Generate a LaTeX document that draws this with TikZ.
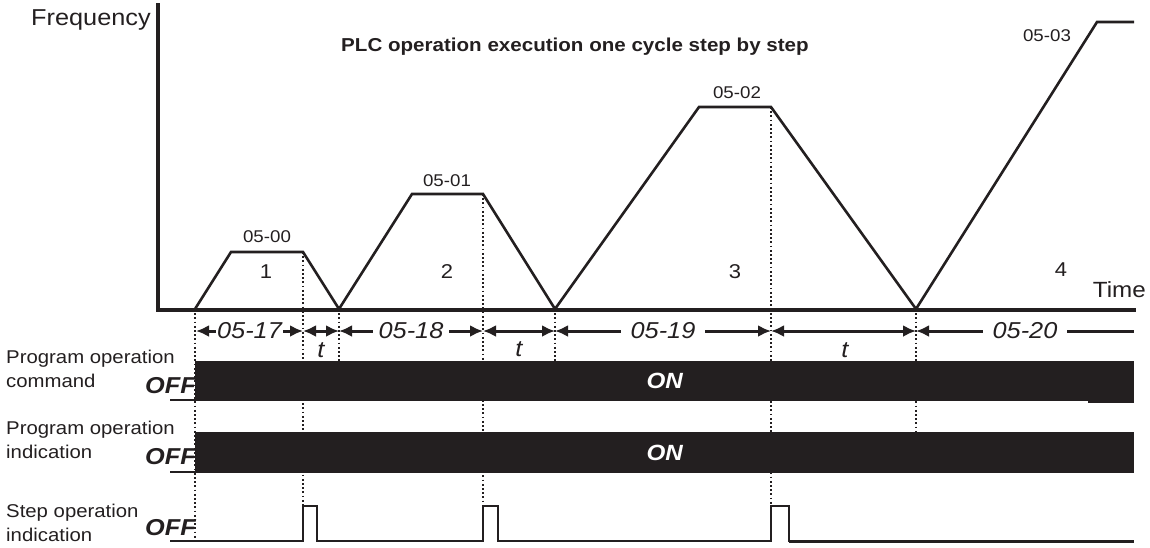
\documentclass[tikz,border=0pt]{standalone}
\usepackage{fontspec}
\setmainfont{Liberation Sans}[FakeStretch=1.1]
\usetikzlibrary{arrows.meta}
\definecolor{ink}{RGB}{35,31,32}
\begin{document}
\begin{tikzpicture}[x=1pt,y=-1pt,
  axis/.style={line width=4pt, draw=ink, line join=miter, line cap=rect},
  curve/.style={line width=2.6pt, draw=ink, line join=miter},
  guide/.style={line width=1.8pt, draw=ink, dash pattern=on 1.8pt off 2.4pt},
  dimline/.style={line width=3pt, draw=ink},
  tip/.tip={Latex[length=13pt,width=12pt]},
  dimlbl/.style={fill=white, inner xsep=6pt, inner ysep=1pt, text=ink, font=\fontsize{23}{25}\selectfont\itshape},
  tlbl/.style={text=ink, inner sep=0pt, font=\fontsize{23}{25}\selectfont\itshape},
  plain/.style={text=ink, inner sep=0pt, font=\fontsize{#1}{#1}\selectfont},
  plain/.default=20,
  caption/.style={text=ink, inner sep=0pt, align=left, anchor=west, font=\fontsize{18.5}{24.5}\selectfont},
  offlbl/.style={text=ink, inner sep=0pt, anchor=east, font=\fontsize{23}{24}\selectfont\bfseries\itshape},
  bar/.style={fill=ink, draw=none, text=white, inner sep=0pt, font=\fontsize{22}{24}\selectfont\bfseries\itshape},
  sig/.style={line width=2.6pt, draw=ink, line join=miter},
]
\useasboundingbox (0,0) rectangle (1150,547);

% texts at the top
\node[plain=23, anchor=west] (freq) at (31,20) {Frequency};
\node[text=ink, inner sep=0pt, font=\fontsize{18.7}{20}\selectfont\bfseries] (title) at (575,47) {PLC operation execution one cycle step by step};

% axes
\coordinate (ytop) at (158,5);
\coordinate (O) at (158,310);
\coordinate (xend) at (1134,310);
\draw[axis] (ytop) -- (O) -- (xend);
\node[plain=22, anchor=east] (time) at (1146,290) {Time};

% frequency profile
\coordinate (p0) at (195,309);
\coordinate (p1) at (231,252);
\coordinate (p2) at (303,252);
\coordinate (p3) at (339,309);
\coordinate (p4) at (412,194);
\coordinate (p5) at (483,194);
\coordinate (p6) at (555,309);
\coordinate (p7) at (699,107);
\coordinate (p8) at (771,107);
\coordinate (p9) at (916,309);
\coordinate (p10) at (1097,22);
\coordinate (p11) at (1134,22);
\draw[curve] (p0) -- (p1) -- (p2) -- (p3) -- (p4) -- (p5) -- (p6) -- (p7) -- (p8) -- (p9) -- (p10) -- (p11);

\node[plain=17] (f0) at (267,237) {05-00};
\node[plain=17] (f1) at (447,181) {05-01};
\node[plain=17] (f2) at (737,93) {05-02};
\node[plain=17] (f3) at (1047,36) {05-03};

\node[plain=20] (n1) at (266,272) {1};
\node[plain=20] (n2) at (447,272) {2};
\node[plain=20] (n3) at (735,272) {3};
\node[plain=20] (n4) at (1061,270) {4};

% dotted guides
\coordinate (g0b) at (195,541);
\coordinate (g1b) at (303,506);
\coordinate (g2b) at (339,361);
\coordinate (g3b) at (483,506);
\coordinate (g4b) at (555,361);
\coordinate (g5b) at (771,506);
\coordinate (g6b) at (916,432);
\draw[guide] (p0) -- (g0b);
\draw[guide] (p2) -- (g1b);
\draw[guide] (p3) -- (g2b);
\draw[guide] (p5) -- (g3b);
\draw[guide] (p6) -- (g4b);
\draw[guide] (p8) -- (g5b);
\draw[guide] (p9) -- (g6b);

% dimension row
\coordinate (a0) at (196,331);
\coordinate (a1) at (303,331);
\coordinate (a2) at (339,331);
\coordinate (a3) at (483,331);
\coordinate (a4) at (555,331);
\coordinate (a5) at (771,331);
\coordinate (a6) at (916,331);
\coordinate (a7) at (1134,331);
\draw[dimline, {tip}-{tip}] (a0) -- node[dimlbl, inner xsep=1pt] (d1) {05-17} (a1);
\draw[dimline, {tip}-{tip}] (a1) -- (a2);
\draw[dimline, {tip}-{tip}] (a2) -- node[dimlbl] (d2) {05-18} (a3);
\draw[dimline, {tip}-{tip}] (a3) -- (a4);
\draw[dimline, {tip}-{tip}] (a4) -- node[dimlbl, inner xsep=10pt] (d3) {05-19} (a5);
\draw[dimline, {tip}-{tip}] (a5) -- (a6);
\draw[dimline, {tip}-] (a6) -- node[dimlbl, inner xsep=10pt] (d4) {05-20} (a7);
\node[tlbl] (t1) at (321,350) {t};
\node[tlbl] (t2) at (519,349) {t};
\node[tlbl] (t3) at (845,350) {t};

% signal captions
\node[caption] (c1) at (6,369) {Program operation\\command};
\node[caption] (c2) at (6,440) {Program operation\\indication};
\node[caption] (c3) at (6,523) {Step operation\\indication};

% ON bars
\draw[line width=1.5pt, draw=ink] (170,400) -- (195,400);
\draw[line width=1.5pt, draw=ink] (170,472) -- (225,472);
\node[bar, minimum width=939pt, minimum height=40pt, anchor=north west] (bar1) at (195,361) {ON};
\node[bar, minimum width=939pt, minimum height=41pt, anchor=north west] (bar2) at (195,432) {ON};
\draw[line width=1.5pt, draw=ink] (1088,402) -- (1134,402);
\node[offlbl] (o1) at (196,386) {OFF};
\node[offlbl] (o2) at (196,457) {OFF};
\node[offlbl] (o3) at (196,528) {OFF};

% step operation indication
\draw[sig] (170,541) -- (303,541) -- (303,506) -- (317,506) -- (317,541) -- (483,541) -- (483,506) -- (498,506) -- (498,541) -- (771,541) -- (771,506) -- (789,506) -- (789,541) -- (800,541);
\draw[line width=3.6pt, draw=ink] (789,541.5) -- (1134,541.5);
\end{tikzpicture}
\end{document}
